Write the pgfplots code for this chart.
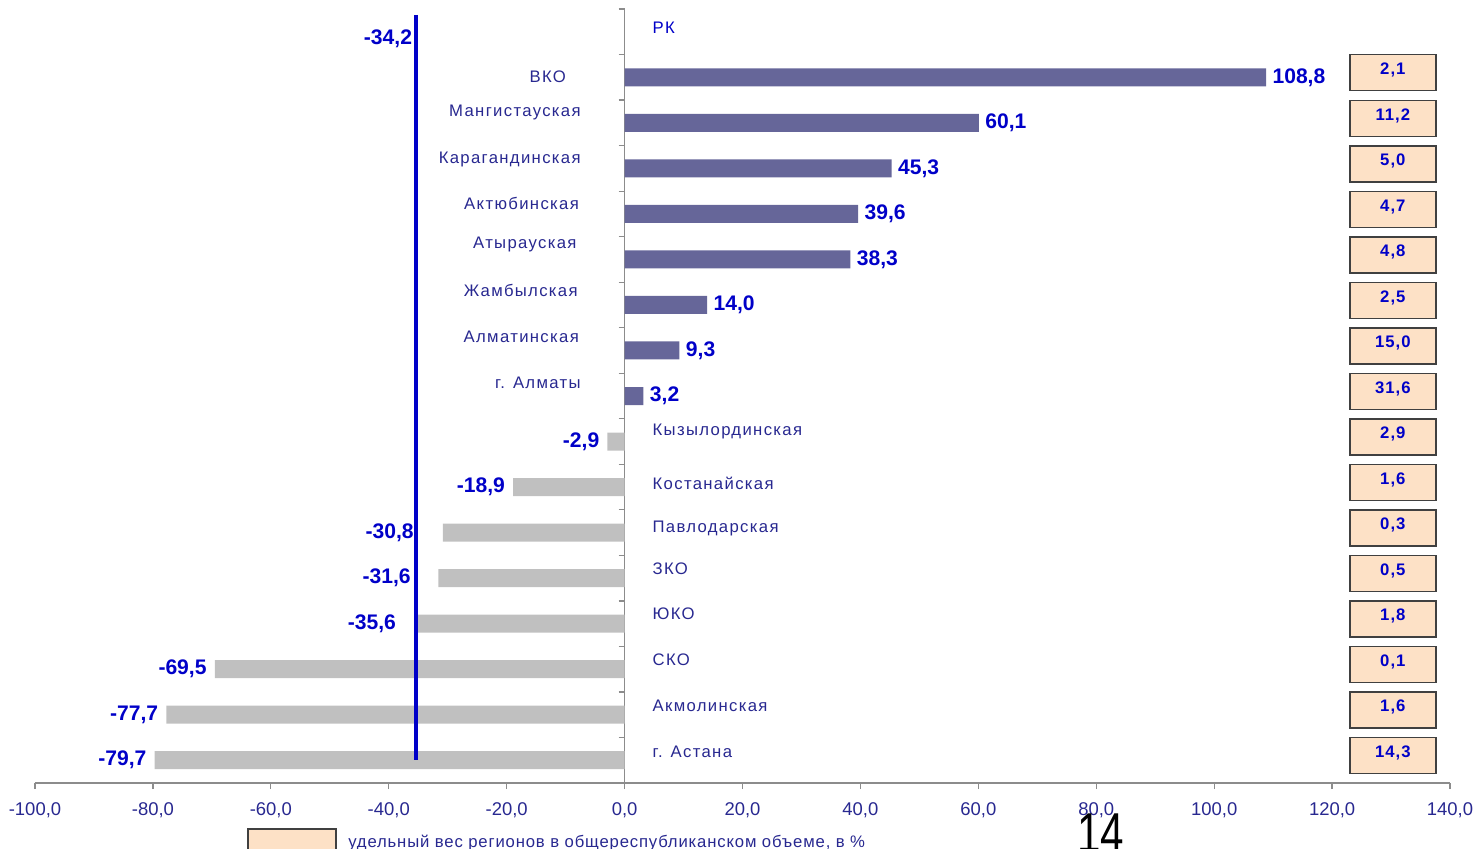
\documentclass[border=0pt]{standalone}
\usepackage{pgfplots}
\usepackage{pgfplotstable}
\pgfplotsset{compat=1.18}
\usepackage{fontspec}
\setmainfont{Liberation Sans}
\newfontfamily\catfont[LetterSpace=8]{Liberation Sans}
\newfontfamily\legfont[LetterSpace=5]{Liberation Sans}
\newfontfamily\boxfont[LetterSpace=6]{Liberation Sans}
\newfontfamily\pagefont[FakeStretch=0.75]{Liberation Sans}

\definecolor{posbar}{HTML}{666699}
\definecolor{negbar}{HTML}{C0C0C0}
\definecolor{valblue}{HTML}{0000C8}
\definecolor{catblue}{HTML}{282890}
\definecolor{boxfill}{HTML}{FDE1C6}
\definecolor{boxborder}{HTML}{404040}
\definecolor{axisgray}{HTML}{8C8C8C}

\tikzset{
  catl/.style={font=\fontsize{9.5}{11}\selectfont\catfont, text=catblue, inner sep=0pt},
  vall/.style={font=\fontsize{12}{14}\selectfont\bfseries, text=valblue},
}

% k = row from the top (1 = РК)
\pgfplotstableread{
k v
2 108.8
3 60.1
4 45.3
5 39.6
6 38.3
7 14.0
8 9.3
9 3.2
}\posdata

\pgfplotstableread{
k v dx
10 -2.9 0
11 -18.9 0
12 -30.8 -12
13 -31.6 -11
14 -35.6 -6
15 -69.5 0
16 -77.7 0
17 -79.7 0
}\negdata

\pgfplotstableread{
k s
2 2.1
3 11.2
4 5.0
5 4.7
6 4.8
7 2.5
8 15.0
9 31.6
10 2.9
11 1.6
12 0.3
13 0.5
14 1.8
15 0.1
16 1.6
17 14.3
}\sharedata

\begin{document}
\begin{tikzpicture}
\useasboundingbox (0,0) rectangle (29.54cm,16.96cm);
\begin{axis}[
  at={(0.7cm,1.3cm)}, anchor=south west,
  scale only axis, width=28.3cm, height=15.48cm,
  xmin=-100, xmax=140, ymin=0.5, ymax=17.5,
  axis x line=bottom, axis y line=middle,
  axis line style={draw=axisgray, line width=0.7pt, -},
  tick style={draw=axisgray, line width=0.7pt},
  tick align=outside, major tick length=0.12cm,
  xtick={-100,-80,...,140},
  ytick={0.5,1.5,...,17.5}, yticklabels={},
  /pgf/number format/assume math mode=true,
  xticklabel style={font=\fontsize{10.5}{12}\selectfont, text=catblue, yshift=-4pt,
    /pgf/number format/.cd, fixed, fixed zerofill, precision=1, use comma},
  clip=false,
]
\addplot[xbar, bar shift=0pt, bar width=0.36cm, fill=posbar, draw=none,
  point meta=x, nodes near coords, nodes near coords align=horizontal,
  nodes near coords={\pgfmathprintnumber[fixed,fixed zerofill,precision=1,use comma]{\pgfplotspointmeta}},
  every node near coord/.append style={vall, anchor=west, inner sep=3.5pt}]
  table[x=v, y expr=18-\thisrow{k}] {\posdata};
\addplot[xbar, bar shift=0pt, bar width=0.36cm, fill=negbar, draw=none,
  point meta=x, nodes near coords, nodes near coords align=horizontal,
  visualization depends on={\thisrow{dx} \as \dx},
  nodes near coords={\pgfmathprintnumber[fixed,fixed zerofill,precision=1,use comma]{\pgfplotspointmeta}},
  every node near coord/.append style={vall, anchor=east, inner sep=4.5pt, xshift=\dx pt}]
  table[x=v, y expr=18-\thisrow{k}] {\negdata};
\addplot[draw=none, mark=none, point meta=\thisrow{s}, nodes near coords,
  nodes near coords={\pgfmathprintnumber[fixed,fixed zerofill,precision=1,use comma]{\pgfplotspointmeta}},
  every node near coord/.append style={anchor=center, draw=boxborder, line width=0.8pt,
    fill=boxfill, minimum width=1.72cm, minimum height=0.72cm, inner sep=0pt,
    text height=7pt, text depth=5pt,
    font=\fontsize{9.5}{11}\selectfont\boxfont\bfseries, text=valblue}]
  table[x expr=130.3, y expr=18-\thisrow{k}+0.1] {\sharedata};
% average for the republic
\addplot[line width=2.3pt, color=valblue] coordinates {(-35.3,17.37) (-35.3,1)};
\node[vall, anchor=east, inner sep=0pt] at (axis cs:-36.0,16.84) {-34,2};

\node[catl, text=valblue, anchor=west] at (axis cs:4.7,17.08) {РК};
\node[catl, anchor=east] at (axis cs:-9.9,16.01) {ВКО};
\node[catl, anchor=east] at (axis cs:-7.4,15.22) {Мангистауская};
\node[catl, anchor=east] at (axis cs:-7.4,14.19) {Карагандинская};
\node[catl, anchor=east] at (axis cs:-7.7,13.22) {Актюбинская};
\node[catl, anchor=east] at (axis cs:-8.1,12.32) {Атырауская};
\node[catl, anchor=east] at (axis cs:-7.9,11.31) {Жамбылская};
\node[catl, anchor=east] at (axis cs:-7.7,10.30) {Алматинская};
\node[catl, anchor=east] at (axis cs:-7.4,9.29) {г. Алматы};
\node[catl, anchor=west] at (axis cs:4.7,8.23) {Кызылординская};
\node[catl, anchor=west] at (axis cs:4.7,7.09) {Костанайская};
\node[catl, anchor=west] at (axis cs:4.7,6.10) {Павлодарская};
\node[catl, anchor=west] at (axis cs:4.7,5.20) {ЗКО};
\node[catl, anchor=west] at (axis cs:4.7,4.21) {ЮКО};
\node[catl, anchor=west] at (axis cs:4.7,3.21) {СКО};
\node[catl, anchor=west] at (axis cs:4.7,2.20) {Акмолинская};
\node[catl, anchor=west] at (axis cs:4.7,1.18) {г. Астана};
\end{axis}
% legend (cut by the page edge as in the original)
\draw[boxborder, line width=0.8pt, fill=boxfill] (4.96cm,0.38cm) rectangle (6.72cm,-0.4cm);
\node[anchor=base west, inner sep=0pt, font=\fontsize{9.5}{11}\selectfont\legfont, text=catblue]
  at (6.96cm,0.02cm) {удельный вес регионов в общереспубликанском объеме, в \%};
\node[anchor=base west, inner sep=0pt, font=\fontsize{32}{34}\selectfont\pagefont]
  at (21.54cm,-0.08cm) {14};
\end{tikzpicture}
\end{document}
